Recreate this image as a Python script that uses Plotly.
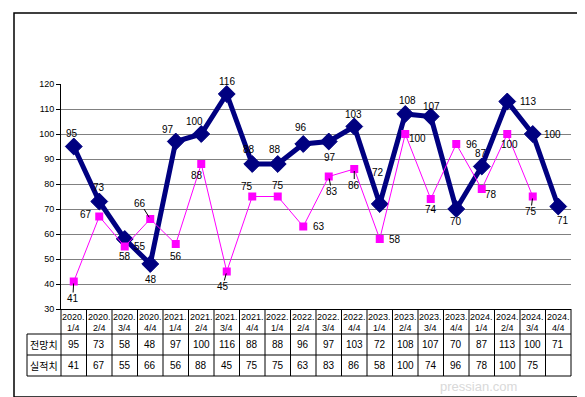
import plotly.graph_objects as go

years = ["2020", "2020", "2020", "2020", "2021", "2021", "2021", "2021", "2022", "2022",
         "2022", "2022", "2023", "2023", "2023", "2023", "2024", "2024", "2024", "2024"]
quarters = ["1/4", "2/4", "3/4", "4/4"] * 5
forecast = [95, 73, 58, 48, 97, 100, 116, 88, 88, 96, 97, 103, 72, 108, 107, 70, 87, 113, 100, 71]
actual = [41, 67, 55, 66, 56, 88, 45, 75, 75, 63, 83, 86, 58, 100, 74, 96, 78, 100, 75, None]
row_names = ["전망치", "실적치"]
y_ticks = [30, 40, 50, 60, 70, 80, 90, 100, 110, 120]

# label offsets (pixels: dx right, dy down) and leader-line flags
f_off = [(-2, -13), (0, -14), (0, 17), (1, 15), (-8, -12), (-7, -13), (0, -13), (-3, -15),
         (-3, -15), (-2, -17), (1, 16), (-1, -12), (-2, -32), (2, -14), (1, -10), (0, 12),
         (-1, -13), (21, 0), (20, 0), (5, 14)]
a_off = [(-1, 17), (-13, -2), (15, 0), (-10, -16), (0, 12), (-4, 11), (-4, 15), (-5, -10),
         (0, -11), (16, 0), (3, 15), (0, 16), (15, 0), (12, 4), (0, 10), (16, 0),
         (9, 5), (2, 10), (-2, 15)]
a_lead = {0, 3, 6, 10, 11, 18}

NAVY = "#000080"
MAG = "#FF00FF"
FONT = "Liberation Sans, Arial, sans-serif"
KFONT = "Noto Sans CJK KR, sans-serif"

L, R, T, B = 53, 563, 76, 301
W, H = 585, 397


def px2x(px):
    return (px - L) / (R - L)


def py2y(py):
    return (B - py) / (B - T)


n = len(forecast)
xs = list(range(n))

fig = go.Figure()
fig.add_trace(go.Scatter(
    x=xs, y=forecast, mode="lines+markers", name=row_names[0],
    line=dict(color=NAVY, width=5),
    marker=dict(symbol="diamond", size=13, color=NAVY, line=dict(color=NAVY, width=1)),
    cliponaxis=False,
))
ax_x = [i for i, v in enumerate(actual) if v is not None]
ax_y = [v for v in actual if v is not None]
fig.add_trace(go.Scatter(
    x=ax_x, y=ax_y, mode="lines+markers", name=row_names[1],
    line=dict(color=MAG, width=1),
    marker=dict(symbol="square", size=8, color=MAG),
    cliponaxis=False,
))

ann = []
for i, v in enumerate(forecast):
    dx, dy = f_off[i]
    ann.append(dict(x=i, y=v, xref="x", yref="y", text=str(v), showarrow=False,
                    xshift=dx, yshift=-dy, font=dict(family=FONT, size=10, color="black")))
for i, v in enumerate(actual):
    if v is None:
        continue
    dx, dy = a_off[i]
    if i in a_lead:
        ann.append(dict(x=i, y=v, xref="x", yref="y", text=str(v), showarrow=True,
                        arrowhead=0, arrowwidth=1, arrowcolor="black", ax=dx, ay=dy,
                        standoff=2, startstandoff=0, borderpad=0,
                        font=dict(family=FONT, size=10, color="black")))
    else:
        ann.append(dict(x=i, y=v, xref="x", yref="y", text=str(v), showarrow=False,
                        xshift=dx, yshift=-dy, font=dict(family=FONT, size=10, color="black")))

# table
shapes = []
row_lines = [326, 347, 368]
for yy in row_lines:
    shapes.append(dict(type="line", xref="paper", yref="paper", x0=px2x(19), x1=1,
                       y0=py2y(yy), y1=py2y(yy), line=dict(color="black", width=1)))
for k in range(n + 1):
    xk = k / n
    shapes.append(dict(type="line", xref="paper", yref="paper", x0=xk, x1=xk,
                       y0=py2y(B), y1=py2y(368), line=dict(color="black", width=1)))
shapes.append(dict(type="line", xref="paper", yref="paper", x0=px2x(19), x1=px2x(19),
                   y0=py2y(326), y1=py2y(368), line=dict(color="black", width=1)))
# outer border
shapes.append(dict(type="rect", xref="paper", yref="paper", x0=px2x(6), x1=px2x(578),
                   y0=py2y(389), y1=py2y(5), line=dict(color="black", width=1.5)))

for i in range(n):
    cx = (i + 0.5) / n
    ann.append(dict(x=cx, y=py2y(309), xref="paper", yref="paper", text=years[i] + ".",
                    showarrow=False, font=dict(family=FONT, size=9, color="black"),
                    xanchor="center", yanchor="middle"))
    ann.append(dict(x=cx, y=py2y(319.5), xref="paper", yref="paper", text=quarters[i],
                    showarrow=False, font=dict(family=FONT, size=9, color="black"),
                    xanchor="center", yanchor="middle"))
    ann.append(dict(x=cx, y=py2y(336.5), xref="paper", yref="paper", text=str(forecast[i]),
                    showarrow=False, font=dict(family=FONT, size=10, color="black"),
                    xanchor="center", yanchor="middle"))
    if actual[i] is not None:
        ann.append(dict(x=cx, y=py2y(357.5), xref="paper", yref="paper", text=str(actual[i]),
                        showarrow=False, font=dict(family=FONT, size=10, color="black"),
                        xanchor="center", yanchor="middle"))
for name, yy in zip(row_names, [336.5, 357.5]):
    ann.append(dict(x=px2x(36), y=py2y(yy), xref="paper", yref="paper", text=name,
                    showarrow=False, font=dict(family=KFONT, size=10, color="black"),
                    xanchor="center", yanchor="middle"))

# faint watermark text
ann.append(dict(x=px2x(470), y=py2y(378), xref="paper", yref="paper", text="pressian.com",
                showarrow=False, font=dict(family=FONT, size=13, color="#d9d9d9"),
                xanchor="center", yanchor="middle"))

fig.update_layout(
    width=W, height=H,
    margin=dict(l=L, r=W - R, t=T, b=H - B, pad=0),
    paper_bgcolor="white", plot_bgcolor="white",
    showlegend=False,
    xaxis=dict(range=[-0.5, n - 0.5], showticklabels=False, showgrid=False, zeroline=False,
               showline=True, linecolor="black", linewidth=1, ticks=""),
    yaxis=dict(range=[30, 120], tickvals=y_ticks, showgrid=True, gridcolor="#808080",
               gridwidth=1, zeroline=False, showline=True, linecolor="black", linewidth=1,
               ticks="outside", ticklen=4, tickcolor="black",
               tickfont=dict(family=FONT, size=9, color="black")),
    annotations=ann,
    shapes=shapes,
)

fig.write_html("out.html")
